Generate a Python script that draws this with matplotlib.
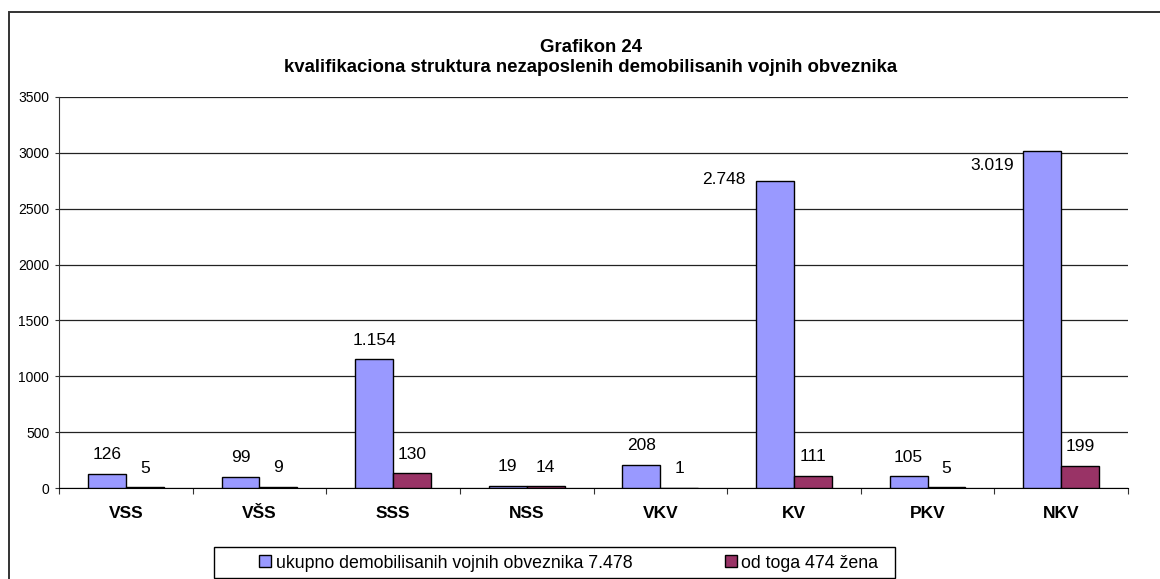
import matplotlib
import matplotlib.pyplot as plt
import numpy as np
from matplotlib.patches import Rectangle

matplotlib.use('Agg')

plt.rcParams['font.family'] = ['Liberation Sans', 'DejaVu Sans']

# data
categories = ['VSS', 'VŠS', 'SSS', 'NSS', 'VKV', 'KV', 'PKV', 'NKV']
ukupno = [126, 99, 1154, 19, 208, 2748, 105, 3019]
zene = [5, 9, 130, 14, 1, 111, 5, 199]
legend_labels = ['ukupno demobilisanih vojnih obveznika 7.478', 'od toga 474 žena']
title_lines = ['Grafikon 24', 'kvalifikaciona struktura nezaposlenih demobilisanih vojnih obveznika']
y_ticks = [0, 500, 1000, 1500, 2000, 2500, 3000, 3500]

W, H = 1160, 579


def px(x, y):
    """pixel position (from top left) -> figure fraction"""
    return x / W, 1 - y / H


def fmt(v: int) -> str:
    return f"{v:,}".replace(',', '.')


fig = plt.figure(figsize=(W / 100, H / 100), dpi=100)

# outer chart frame (only left and top edges are visible)
x0, y0 = px(8.5, 12)
fig.patches.append(Rectangle((x0, -0.2), 1.5, y0 + 0.2, transform=fig.transFigure,
                             fill=False, edgecolor='#333333', lw=1.4))

left, top = px(59, 97)
_, bottom = px(59, 488)
right, _ = px(1128, 97)
ax = fig.add_axes([left, bottom, right - left, top - bottom])

x = np.arange(len(categories)) + 0.5
w = 0.283
b1 = ax.bar(x - w / 2, ukupno, w, color='#9999FF', edgecolor='black', lw=1.0, zorder=3)
b2 = ax.bar(x + w / 2, zene, w, color='#993366', edgecolor='black', lw=1.0, zorder=3)

# value labels; two of the big bars have their label to the left
special = {5: (-21.6, 1.4), 7: (-20.5, -10.8)}
for i, (xi, v) in enumerate(zip(x, ukupno)):
    if i in special:
        dx, dy = special[i]
        ax.annotate(fmt(v), (xi - w / 2, v), xytext=(dx, dy), textcoords='offset points',
                    ha='right', va='center', fontsize=12.5)
    else:
        ax.annotate(fmt(v), (xi - w / 2, v), xytext=(0, 13.7), textcoords='offset points',
                    ha='center', va='center', fontsize=12.5)
for xi, v in zip(x, zene):
    ax.annotate(fmt(v), (xi + w / 2, v), xytext=(0, 13.7), textcoords='offset points',
                ha='center', va='center', fontsize=12.5)

ax.set_xlim(0, len(categories))
ax.set_ylim(0, 3500)
ax.set_yticks(y_ticks)
ax.set_yticklabels([str(t) for t in y_ticks], fontsize=10)
ax.yaxis.grid(True, color='#222222', lw=0.9, zorder=0)
ax.set_axisbelow(True)

ax.set_xticks(np.arange(len(categories) + 1))
ax.set_xticklabels([])
ax.set_xticks(x, minor=True)
ax.set_xticklabels(categories, minor=True, fontsize=12.5, fontweight='bold')
ax.tick_params(axis='x', which='major', direction='out', length=4, color='#333333')
ax.tick_params(axis='x', which='minor', length=0, pad=13)
ax.tick_params(axis='y', direction='out', length=3, pad=4, color='#333333')

for s in ('top', 'right'):
    ax.spines[s].set_visible(False)
ax.spines['left'].set_color('#333333')
ax.spines['bottom'].set_color('black')

tx, ty = px(591, 48)
fig.text(tx, ty, title_lines[0], ha='center', va='center', fontsize=13.4, fontweight='bold')
tx, ty = px(591, 68)
fig.text(tx, ty, title_lines[1], ha='center', va='center', fontsize=13.4, fontweight='bold')

# legend box
lx0, ly0 = px(214, 578)
lx1, ly1 = px(895, 547)
fig.patches.append(Rectangle((lx0, ly0), lx1 - lx0, ly1 - ly0, transform=fig.transFigure,
                             fill=False, edgecolor='black', lw=1.0))
ax_, ay_ = px(259, 563)
fig.legend([b1, b2], legend_labels, loc='center left', bbox_to_anchor=(ax_, ay_),
           ncol=2, frameon=False, fontsize=12.8, borderpad=0, borderaxespad=0,
           handlelength=0.68, handleheight=0.68, handletextpad=0.25, columnspacing=5.2)

fig.savefig('out.png', dpi=100)
